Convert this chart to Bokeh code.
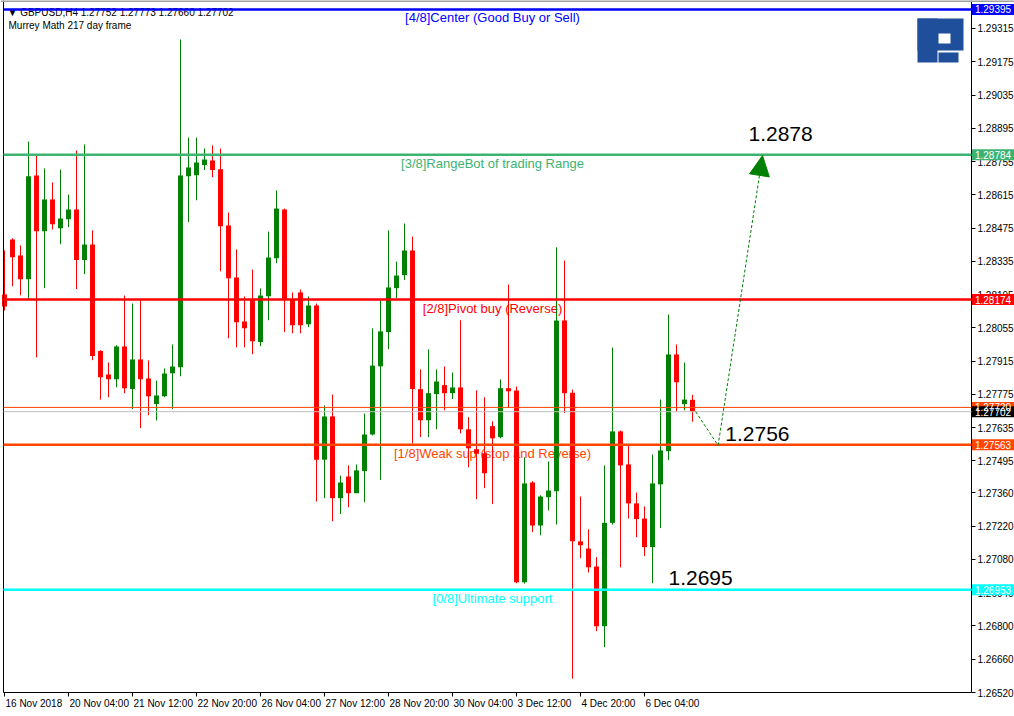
from bokeh.plotting import figure
from bokeh.models import (ColumnDataSource, FixedTicker, PrintfTickFormatter, Span,
                          BoxAnnotation, Arrow, NormalHead, Range1d)
from bokeh.core.properties import value
from bokeh.embed import file_html
from bokeh.resources import INLINE

FONT = "Liberation Sans"

# ---- H4 candles GBPUSD (bar index 0 = 16 Nov 2018 20:00) ----
opens = [1.28195, 1.28427, 1.28359, 1.28260, 1.28696, 1.28462, 1.28595, 1.28474, 1.28512, 1.28553,
         1.28340, 1.28406, 1.27957, 1.27859, 1.27839, 1.27976, 1.27797, 1.27922, 1.27842, 1.27734,
         1.27767, 1.27864, 1.27889, 1.28693, 1.28697, 1.28740, 1.28759, 1.28722, 1.28486, 1.28267,
         1.28082, 1.28176, 1.27995, 1.28188, 1.28348, 1.28553, 1.28174, 1.28204, 1.28070, 1.28149,
         1.27500, 1.27682, 1.27338, 1.27429, 1.27359, 1.27452, 1.27606, 1.27893, 1.28037, 1.28222,
         1.28277, 1.28381, 1.27797, 1.27666, 1.27776, 1.27814, 1.27780, 1.27804, 1.27628, 1.27544,
         1.27527, 1.27641, 1.27595, 1.27801, 1.27791, 1.26984, 1.27404, 1.27223, 1.27342, 1.27367,
         1.28086, 1.27782, 1.27156, 1.27126, 1.27050, 1.26799, 1.27234, 1.27619, 1.27480, 1.27316,
         1.27252, 1.27132, 1.27396, 1.27536, 1.27943, 1.27734, 1.27752]
highs = [1.28381, 1.28432, 1.28402, 1.28839, 1.28780, 1.28726, 1.28667, 1.28721, 1.28616, 1.28801,
         1.28827, 1.28465, 1.27961, 1.27909, 1.27982, 1.28191, 1.28157, 1.28174, 1.27918, 1.27833,
         1.27884, 1.27985, 1.29269, 1.28856, 1.28856, 1.28810, 1.28823, 1.28810, 1.28540, 1.28385,
         1.28187, 1.28300, 1.28221, 1.28460, 1.28633, 1.28557, 1.28204, 1.28216, 1.28187, 1.28157,
         1.27728, 1.27774, 1.27433, 1.27476, 1.27480, 1.27694, 1.28053, 1.28170, 1.28465, 1.28334,
         1.28494, 1.28439, 1.27880, 1.27964, 1.27880, 1.27892, 1.27867, 1.28087, 1.27679, 1.27792,
         1.27763, 1.27662, 1.27838, 1.28237, 1.27808, 1.27510, 1.27410, 1.27350, 1.27492, 1.28394,
         1.28338, 1.27795, 1.27345, 1.27207, 1.27090, 1.27476, 1.27972, 1.27623, 1.27560, 1.27362,
         1.27303, 1.27522, 1.27753, 1.28111, 1.27985, 1.27909, 1.27773]
lows = [1.28128, 1.28230, 1.28192, 1.28177, 1.27931, 1.28222, 1.28469, 1.28407, 1.28479, 1.28218,
        1.28281, 1.27919, 1.27753, 1.27763, 1.27805, 1.27780, 1.27713, 1.27633, 1.27687, 1.27665,
        1.27763, 1.27713, 1.27851, 1.28500, 1.28592, 1.28719, 1.28689, 1.28293, 1.28011, 1.27973,
        1.27973, 1.27944, 1.27978, 1.28087, 1.28327, 1.28037, 1.28032, 1.28032, 1.28058, 1.27324,
        1.27338, 1.27241, 1.27271, 1.27300, 1.27359, 1.27321, 1.27602, 1.27415, 1.27965, 1.28180,
        1.28256, 1.27569, 1.27595, 1.27595, 1.27628, 1.27708, 1.27755, 1.27611, 1.27468, 1.27334,
        1.27380, 1.27313, 1.27590, 1.27721, 1.26980, 1.26978, 1.27195, 1.27182, 1.27286, 1.27227,
        1.27696, 1.26578, 1.27085, 1.27025, 1.26778, 1.26711, 1.27227, 1.27047, 1.27252, 1.27174,
        1.27094, 1.26980, 1.27212, 1.27498, 1.27703, 1.27708, 1.27660]
closes = [1.28145, 1.28352, 1.28260, 1.28693, 1.28462, 1.28595, 1.28491, 1.28515, 1.28553, 1.28340,
          1.28406, 1.27936, 1.27847, 1.27839, 1.27976, 1.27801, 1.27922, 1.27839, 1.27767, 1.27770,
          1.27863, 1.27892, 1.28696, 1.28730, 1.28751, 1.28764, 1.28719, 1.28483, 1.28264, 1.28079,
          1.28053, 1.27999, 1.28191, 1.28351, 1.28557, 1.28177, 1.28066, 1.28066, 1.28149, 1.27500,
          1.27682, 1.27338, 1.27404, 1.27359, 1.27455, 1.27606, 1.27896, 1.28040, 1.28225, 1.28275,
          1.28381, 1.27797, 1.27666, 1.27780, 1.27829, 1.27780, 1.27804, 1.27628, 1.27548, 1.27525,
          1.27443, 1.27590, 1.27801, 1.27788, 1.26984, 1.27400, 1.27223, 1.27345, 1.27370, 1.28086,
          1.27780, 1.27157, 1.27140, 1.27047, 1.26799, 1.27234, 1.27619, 1.27476, 1.27316, 1.27250,
          1.27132, 1.27400, 1.27539, 1.27943, 1.27826, 1.27753, 1.27702]

# ---- Murrey Math levels ----
level_prices = [1.29395, 1.28784, 1.28174, 1.27563, 1.26953]
level_texts = ["[4/8]Center (Good Buy or Sell)", "[3/8]RangeBot of trading Range",
               "[2/8]Pivot buy (Reverse)", "[1/8]Weak sup (stop and Reverse)",
               "[0/8]Ultimate support"]
level_colors = ["#0000FF", "#3CB371", "#FF0000", "#FF4500", "#00FFFF"]
level_label_bar = 61

ask_line = 1.27720
bid_line = 1.27702

# ---- axes ----
x_tick_bars = [0, 8, 16, 24, 32, 40, 48, 56, 64, 72, 80]
x_tick_labels = ["16 Nov 2018", "20 Nov 04:00", "21 Nov 12:00", "22 Nov 20:00", "26 Nov 04:00",
                 "27 Nov 12:00", "28 Nov 20:00", "30 Nov 04:00", "3 Dec 12:00", "4 Dec 20:00",
                 "6 Dec 04:00"]
y_ticks = [1.26520, 1.26660, 1.26800, 1.26940, 1.27080, 1.27220, 1.27360, 1.27495, 1.27635,
           1.27775, 1.27915, 1.28055, 1.28195, 1.28335, 1.28475, 1.28615, 1.28755, 1.28895,
           1.29035, 1.29175, 1.29315]

# ---- price tags on the price scale ----
tag_prices = [1.29395, 1.28784, 1.28174, 1.27720, 1.27702, 1.27563, 1.26953]
tag_colors = ["#0000FF", "#3CB371", "#FF0000", "#FF4500", "#000000", "#FF4500", "#00FFFF"]

# ---- forecast ----
path_bars = [86.4, 89.2, 94.75]
path_prices = [1.27702, 1.27560, 1.28780]
target_texts = ["1.2878", "1.2756", "1.2695"]
target_bars = [93.0, 90.1, 83.0]
target_prices = [1.28869, 1.27610, 1.27004]

header1 = "\u25bc GBPUSD,H4  1.27752 1.27773 1.27660 1.27702"
header2 = "Murrey Math 217 day frame"

# ---- geometry (one frame covering the page; axes drawn at fixed locations) ----
W, H = 1014, 716
PX_PER_BAR = 8.0
PRICE_PER_PX = 4.2093e-5
x_lo = -0.5
x_hi = x_lo + W / PX_PER_BAR
chart_bottom = 1.26520          # price at the bottom edge of the chart area
y_hi = chart_bottom + 692 * PRICE_PER_PX
y_lo = chart_bottom - 24 * PRICE_PER_PX
left_edge = x_lo + 3 / PX_PER_BAR      # left border of the chart area
scale_x = x_lo + 971 / PX_PER_BAR      # price-scale line

p = figure(frame_width=W, frame_height=H, x_range=Range1d(x_lo, x_hi),
           y_range=Range1d(y_lo, y_hi), output_backend="svg", toolbar_location=None,
           y_axis_location="right", x_axis_location="below",
           min_border_left=0, min_border_top=0, min_border_right=0, min_border_bottom=0,
           background_fill_color="white", border_fill_color="white")
p.outline_line_color = None
p.grid.visible = False

# header texts and level texts (below candles)
p.text(x=[0.375], y=[y_hi], text=[header1], text_color="black", text_align="left",
       text_baseline="top", y_offset=6, text_font=value(FONT), text_font_size="10px")
p.text(x=[0.5], y=[y_hi], text=[header2], text_color="black", text_align="left",
       text_baseline="top", y_offset=19, text_font=value(FONT), text_font_size="10px")

lsrc = ColumnDataSource(dict(x=[level_label_bar] * len(level_prices), y=level_prices,
                             t=level_texts, c=level_colors))
p.text(x="x", y="y", text="t", text_color="c", source=lsrc, text_align="center",
       text_baseline="top", y_offset=1, text_font=value(FONT), text_font_size="13px")

# candles
idx = list(range(len(opens)))
body_top = [max(o, c) for o, c in zip(opens, closes)]
body_bot = [min(o, c) for o, c in zip(opens, closes)]
cols = ["#008000" if c > o else "#FF0000" for o, c in zip(opens, closes)]
src = ColumnDataSource(dict(x=idx, h=highs, l=lows, t=body_top, b=body_bot, c=cols))
p.segment(x0="x", y0="h", x1="x", y1="l", line_color="c", line_width=1, source=src)
p.vbar(x="x", width=0.62, top="t", bottom="b", fill_color="c", line_color=None, source=src)

# chart borders
p.add_layout(Span(location=y_hi, dimension="width", line_color="#A0A0A0", line_width=3))
p.segment(x0=[left_edge], y0=[chart_bottom], x1=[left_edge], y1=[y_hi], line_color="black", line_width=1)
p.segment(x0=[scale_x], y0=[chart_bottom], x1=[scale_x], y1=[y_hi], line_color="black", line_width=1)
p.segment(x0=[left_edge], y0=[chart_bottom], x1=[scale_x], y1=[chart_bottom], line_color="black", line_width=1)

# level lines
n = len(level_prices)
p.segment(x0=[left_edge] * n, y0=level_prices, x1=[scale_x] * n, y1=level_prices,
          line_color=level_colors, line_width=2.5)
p.segment(x0=[left_edge, left_edge], y0=[ask_line, bid_line], x1=[scale_x, scale_x],
          y1=[ask_line, bid_line], line_color=["#FF4500", "#C0C0C0"], line_width=1)

# forecast path
p.line(x=path_bars[:2], y=path_prices[:2], line_color="#008000", line_width=1, line_dash="3 2")
p.add_layout(Arrow(x_start=path_bars[1], y_start=path_prices[1], x_end=path_bars[2],
                   y_end=path_prices[2], line_color="#008000", line_width=1, line_dash="3 2",
                   end=NormalHead(size=20, fill_color="#008000", line_color="#008000")))

p.text(x=target_bars, y=target_prices, text=target_texts, text_color="black",
       text_align="left", text_baseline="middle", text_font=value(FONT), text_font_size="21px")

# x tick labels (left-aligned at each tick, as in the terminal)
p.text(x=x_tick_bars, y=[chart_bottom] * len(x_tick_bars), text=x_tick_labels,
       text_color="black", text_align="left", text_baseline="top", x_offset=1, y_offset=5,
       text_font=value(FONT), text_font_size="10px")

# logo (decoration, screen units measured from the frame's bottom-left)
logo_col = "#1F4E9A"
LX, LT = 917, 18
for (l, r, t, b, c) in [(0, 46, 0, 32, logo_col), (0, 20, 0, 44, logo_col),
                        (21, 41, 34, 44, logo_col), (21, 33, 15, 25, "white")]:
    p.add_layout(BoxAnnotation(left=LX + l, right=LX + r, top=H - (LT + t), bottom=H - (LT + b),
                               left_units="screen", right_units="screen",
                               top_units="screen", bottom_units="screen",
                               fill_color=c, fill_alpha=1, line_color=None))

# axes at fixed locations
xa = p.xaxis[0]
xa.fixed_location = chart_bottom
xa.ticker = FixedTicker(ticks=x_tick_bars)
xa.major_label_text_color = None
xa.minor_tick_line_color = None
xa.major_tick_in = 0
xa.major_tick_out = 4
xa.major_tick_line_color = "black"
xa.axis_line_color = None

ya = p.yaxis[0]
ya.fixed_location = scale_x
ya.ticker = FixedTicker(ticks=y_ticks)
ya.formatter = PrintfTickFormatter(format="%.5f")
ya.minor_tick_line_color = None
ya.major_tick_in = 0
ya.major_tick_out = 4
ya.major_label_standoff = 2
ya.axis_line_color = None
ya.major_label_text_font = FONT
ya.major_label_text_font_size = "10px"
ya.major_label_text_color = "black"

# price tags (drawn above the scale labels)
m = len(tag_prices)
tag_center = scale_x + 21.5 / PX_PER_BAR
p.rect(x=[tag_center] * m, y=tag_prices, width=42, height=11, width_units="screen",
       height_units="screen", fill_color=tag_colors, line_color=None, level="overlay")
p.text(x=[tag_center] * m, y=tag_prices, text=["%.5f" % t for t in tag_prices],
       text_color="white", text_align="center", text_baseline="middle",
       text_font=value(FONT), text_font_size="10px", level="overlay")

open("out.html", "w").write(file_html(p, INLINE))
